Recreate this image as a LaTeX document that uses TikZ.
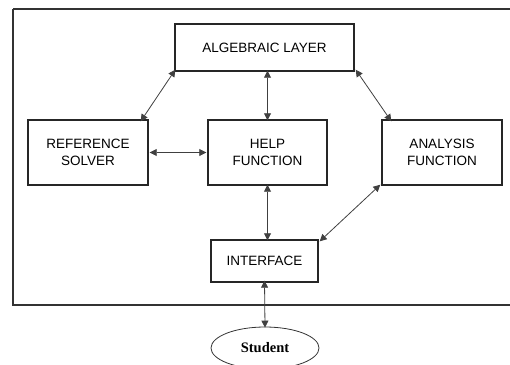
\documentclass[tikz,border=0pt]{standalone}
\usepackage{fontspec}
\setmainfont{Liberation Sans}
\newfontfamily\serifb{Liberation Serif}
\usetikzlibrary{arrows.meta,shapes.geometric}
\tikzset{
  blk/.style={draw=black!85, line width=1.4pt, fill=white, align=center, font=\fontsize{13.5}{17}\selectfont, inner sep=0pt},
  link/.style={draw=black!75, line width=0.8pt, {Triangle[length=7pt,width=7pt]}-{Triangle[length=7pt,width=7pt]}},
}
\begin{document}
\begin{tikzpicture}[x=1pt,y=-1pt]
\useasboundingbox (0,0) rectangle (510,364);
\clip (0,0) rectangle (510,364);
\draw[black!80, line width=1.3pt] (13,9) -- (13,305) -- (520,305);
\draw[black!80, line width=1.3pt] (13,9) -- (520,9);
\node[blk, minimum width=179pt, minimum height=47pt] (alg) at (264.5,47.5) {ALGEBRAIC LAYER};
\node[blk, minimum width=120pt, minimum height=65pt] (ref) at (88,152.5) {REFERENCE\\SOLVER};
\node[blk, minimum width=119pt, minimum height=65pt] (help) at (267.5,152.5) {HELP\\FUNCTION};
\node[blk, minimum width=120pt, minimum height=65pt] (ana) at (442,152.5) {ANALYSIS\\FUNCTION};
\node[blk, minimum width=107pt, minimum height=42pt] (int) at (264.5,261) {INTERFACE};
\node[draw=black!80, line width=0.8pt, ellipse, minimum width=108pt, minimum height=42pt, inner sep=0pt, font=\serifb\bfseries\fontsize{14.5}{17}\selectfont] (stu) at (265,348) {Student};
\draw[link] ([xshift=1pt,yshift=2pt]alg.south west) -- ([xshift=-8pt,yshift=-2pt]ref.north east);
\draw[link] ([yshift=1pt]alg.south -| help.north) -- ([yshift=-1pt]help.north);
\draw[link] ([xshift=1pt,yshift=2pt]alg.south east) -- ([xshift=10pt,yshift=-2pt]ana.north west);
\draw[link] ([xshift=1pt]ref.east) -- ([xshift=-1pt]help.east -| help.west);
\draw[link] ([yshift=1pt]help.south) -- ([yshift=-1pt]int.north -| help.south);
\draw[link] ([xshift=-1pt,yshift=1pt]ana.south west) -- ([xshift=1pt,yshift=-2pt]int.north east);
\draw[link] ([yshift=2pt]int.south) -- ([yshift=-1pt]stu.north);
\end{tikzpicture}
\end{document}
